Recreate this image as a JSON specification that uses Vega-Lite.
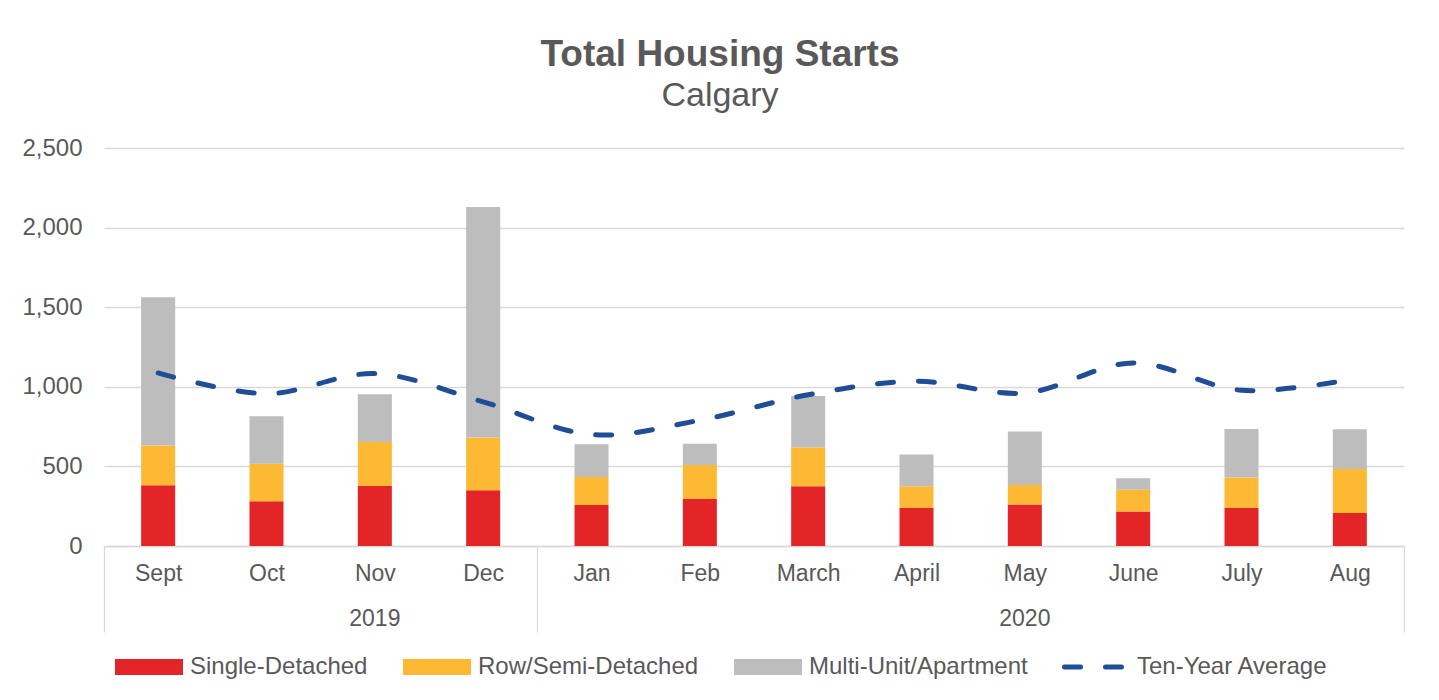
{
  "$schema": "https://vega.github.io/schema/vega-lite/v6.json",
  "width": 1300,
  "height": 398,
  "autosize": {"type": "none"},
  "padding": {"left": 104, "top": 148, "right": 35, "bottom": 154},
  "background": "white",
  "title": {
    "text": "Total Housing Starts",
    "subtitle": "Calgary",
    "font": "Liberation Sans",
    "subtitleFont": "Liberation Sans",
    "fontSize": 37,
    "subtitleFontSize": 34,
    "fontWeight": "bold",
    "color": "#595959",
    "subtitleColor": "#595959",
    "anchor": "middle",
    "dx": -34,
    "offset": 22,
    "subtitlePadding": 5
  },
  "datasets": {
    "bars": [
      {"month": "Sept", "type": "Single-Detached", "value": 381},
      {"month": "Sept", "type": "Row/Semi-Detached", "value": 251},
      {"month": "Sept", "type": "Multi-Unit/Apartment", "value": 930},
      {"month": "Oct", "type": "Single-Detached", "value": 281},
      {"month": "Oct", "type": "Row/Semi-Detached", "value": 236},
      {"month": "Oct", "type": "Multi-Unit/Apartment", "value": 298},
      {"month": "Nov", "type": "Single-Detached", "value": 377},
      {"month": "Nov", "type": "Row/Semi-Detached", "value": 276},
      {"month": "Nov", "type": "Multi-Unit/Apartment", "value": 300},
      {"month": "Dec", "type": "Single-Detached", "value": 350},
      {"month": "Dec", "type": "Row/Semi-Detached", "value": 331},
      {"month": "Dec", "type": "Multi-Unit/Apartment", "value": 1449},
      {"month": "Jan", "type": "Single-Detached", "value": 258},
      {"month": "Jan", "type": "Row/Semi-Detached", "value": 176},
      {"month": "Jan", "type": "Multi-Unit/Apartment", "value": 205},
      {"month": "Feb", "type": "Single-Detached", "value": 295},
      {"month": "Feb", "type": "Row/Semi-Detached", "value": 214},
      {"month": "Feb", "type": "Multi-Unit/Apartment", "value": 134},
      {"month": "March", "type": "Single-Detached", "value": 375},
      {"month": "March", "type": "Row/Semi-Detached", "value": 243},
      {"month": "March", "type": "Multi-Unit/Apartment", "value": 324},
      {"month": "April", "type": "Single-Detached", "value": 239},
      {"month": "April", "type": "Row/Semi-Detached", "value": 136},
      {"month": "April", "type": "Multi-Unit/Apartment", "value": 199},
      {"month": "May", "type": "Single-Detached", "value": 260},
      {"month": "May", "type": "Row/Semi-Detached", "value": 123},
      {"month": "May", "type": "Multi-Unit/Apartment", "value": 337},
      {"month": "June", "type": "Single-Detached", "value": 216},
      {"month": "June", "type": "Row/Semi-Detached", "value": 138},
      {"month": "June", "type": "Multi-Unit/Apartment", "value": 71},
      {"month": "July", "type": "Single-Detached", "value": 239},
      {"month": "July", "type": "Row/Semi-Detached", "value": 191},
      {"month": "July", "type": "Multi-Unit/Apartment", "value": 305},
      {"month": "Aug", "type": "Single-Detached", "value": 207},
      {"month": "Aug", "type": "Row/Semi-Detached", "value": 277},
      {"month": "Aug", "type": "Multi-Unit/Apartment", "value": 249}
    ],
    "avg": [
      {"month": "Sept", "series": "Ten-Year Average", "value": 1087},
      {"month": "Oct", "series": "Ten-Year Average", "value": 957},
      {"month": "Nov", "series": "Ten-Year Average", "value": 1083},
      {"month": "Dec", "series": "Ten-Year Average", "value": 905},
      {"month": "Jan", "series": "Ten-Year Average", "value": 700},
      {"month": "Feb", "series": "Ten-Year Average", "value": 790},
      {"month": "March", "series": "Ten-Year Average", "value": 950},
      {"month": "April", "series": "Ten-Year Average", "value": 1035},
      {"month": "May", "series": "Ten-Year Average", "value": 961},
      {"month": "June", "series": "Ten-Year Average", "value": 1150},
      {"month": "July", "series": "Ten-Year Average", "value": 978},
      {"month": "Aug", "series": "Ten-Year Average", "value": 1045}
    ]
  },
  "layer": [
    {
      "data": {"name": "bars"},
      "transform": [
        {"calculate": "indexof(['Single-Detached','Row/Semi-Detached','Multi-Unit/Apartment'], datum.type)", "as": "ord"}
      ],
      "mark": {"type": "bar", "width": {"band": 0.314}},
      "encoding": {
        "x": {
          "field": "month",
          "type": "ordinal",
          "sort": ["Sept", "Oct", "Nov", "Dec", "Jan", "Feb", "March", "April", "May", "June", "July", "Aug"],
          "scale": {"paddingInner": 0, "paddingOuter": 0},
          "axis": {
            "orient": "bottom",
            "title": null,
            "domain": true,
            "domainColor": "#d9d9d9",
            "domainWidth": 1.3,
            "grid": false,
            "ticks": true,
            "tickBand": "extent",
            "tickSize": 86,
            "tickWidth": 1.3,
            "tickColor": "#d9d9d9",
            "tickOpacity": {"condition": {"test": "datum.value === 'Dec' || datum.value === 'Aug' || datum.index === -1", "value": 1}, "value": 0},
            "labelPadding": -70,
            "labelFontSize": 23,
            "labelColor": "#595959",
            "labelAngle": 0
          }
        },
        "y": {
          "field": "value",
          "type": "quantitative",
          "aggregate": "sum",
          "stack": "zero",
          "scale": {"domain": [0, 2500], "nice": false},
          "axis": {
            "title": null,
            "values": [0, 500, 1000, 1500, 2000, 2500],
            "format": ",.0f",
            "grid": true,
            "gridColor": "#d9d9d9",
            "gridWidth": 1.3,
            "domain": false,
            "ticks": false,
            "labelPadding": 22,
            "labelFontSize": 24,
            "labelColor": "#595959"
          }
        },
        "color": {
          "field": "type",
          "type": "nominal",
          "scale": {
            "domain": ["Single-Detached", "Row/Semi-Detached", "Multi-Unit/Apartment"],
            "range": ["#E32528", "#FDB934", "#BDBDBD"]
          },
          "legend": {
            "orient": "none",
            "legendX": 11,
            "legendY": 485,
            "direction": "horizontal",
            "title": null,
            "symbolType": "M-1,-0.235H1V0.235H-1Z",
            "symbolSize": 4624,
            "symbolStrokeWidth": 0,
            "symbolOpacity": 1,
            "labelFontSize": 24,
            "labelColor": "#595959",
            "labelOffset": 7,
            "labelLimit": 0,
            "columnPadding": 35
          }
        },
        "order": {"field": "ord", "type": "quantitative"}
      }
    },
    {
      "data": {"name": "avg"},
      "mark": {"type": "line", "interpolate": "catmull-rom", "strokeWidth": 5, "strokeCap": "round", "color": "#1F4E96"},
      "encoding": {
        "x": {
          "field": "month",
          "type": "ordinal",
          "sort": ["Sept", "Oct", "Nov", "Dec", "Jan", "Feb", "March", "April", "May", "June", "July", "Aug"],
          "axis": {
            "orient": "bottom",
            "title": null,
            "values": ["Nov", "May"],
            "bandPosition": 0,
            "labelExpr": "datum.value === 'Nov' ? '2019' : '2020'",
            "ticks": false,
            "domain": false,
            "grid": false,
            "labelPadding": 61,
            "labelFontSize": 23,
            "labelColor": "#595959",
            "labelAngle": 0
          }
        },
        "y": {"field": "value", "type": "quantitative", "scale": {"domain": [0, 2500], "nice": false}},
        "strokeDash": {
          "field": "series",
          "type": "nominal",
          "scale": {"domain": ["Ten-Year Average"], "range": [[16, 25]]},
          "legend": {
            "orient": "none",
            "legendX": 958,
            "legendY": 486,
            "direction": "horizontal",
            "title": null,
            "symbolType": "stroke",
            "symbolSize": 3721,
            "symbolDash": [19, 23],
            "symbolStrokeColor": "#1F4E96",
            "symbolStrokeWidth": 5,
            "labelFontSize": 24,
            "labelColor": "#595959",
            "labelOffset": 9,
            "labelLimit": 0,
            "encode": {"symbols": {"update": {"strokeCap": {"value": "round"}}}}
          }
        }
      }
    }
  ],
  "resolve": {"axis": {"x": "independent"}},
  "config": {
    "font": "Liberation Sans",
    "view": {"stroke": null},
    "axis": {"labelFont": "Liberation Sans"},
    "legend": {"labelFont": "Liberation Sans"}
  }
}
